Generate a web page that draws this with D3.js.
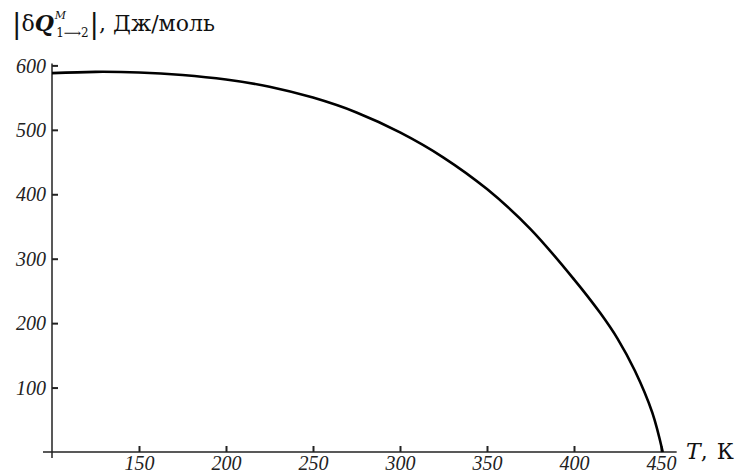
<!DOCTYPE html>
<html>
<head>
<meta charset="utf-8">
<script src="https://cdn.jsdelivr.net/npm/d3@7/dist/d3.min.js"></script>
<style>
  html, body { margin: 0; padding: 0; background: #fff; }
  svg { display: block; }
</style>
</head>
<body>
<svg id="chart" width="745" height="475"></svg>
<script>
// Data
const temperatures = [100, 125, 150, 175, 200, 225, 250, 275, 300, 325, 350, 375, 400, 415, 425, 435, 445, 451];
const heatValues   = [588, 590, 589, 585, 578, 567, 550, 527, 496, 457, 408, 346, 268, 216, 176, 126, 61, 0];
const xTickValues = [150, 200, 250, 300, 350, 400, 450];
const yTickValues = [100, 200, 300, 400, 500, 600];

const svg = d3.select("#chart");
const x = d3.scaleLinear().domain([100, 450]).range([52, 661]);
const y = d3.scaleLinear().domain([0, 600]).range([452, 65.4]);

const axisColor = "#222";
const fontTicks = "'Liberation Serif', serif";

// Axis lines (with small overhang like the reference)
svg.append("line")
  .attr("x1", x(100) - 9).attr("x2", x(459))
  .attr("y1", y(0)).attr("y2", y(0))
  .attr("stroke", axisColor).attr("stroke-width", 1.5);
svg.append("line")
  .attr("x1", x(100)).attr("x2", x(100))
  .attr("y1", y(0) + 6).attr("y2", y(603))
  .attr("stroke", axisColor).attr("stroke-width", 1.5);

// X axis ticks (inward) and labels
const xAxis = d3.axisBottom(x).tickValues(xTickValues).tickSize(0).tickPadding(0).tickFormat(d3.format("d"));
const gx = svg.append("g").attr("transform", `translate(0,${y(0)})`).call(xAxis);
gx.select(".domain").remove();
gx.selectAll(".tick").append("line")
  .attr("y1", 0).attr("y2", -6)
  .attr("stroke", axisColor).attr("stroke-width", 2);
gx.selectAll(".tick text")
  .attr("y", 18)
  .attr("dy", 0)
  .style("font-family", fontTicks)
  .style("font-style", "italic")
  .style("font-size", "20px")
  .attr("fill", "#222");

// Y axis ticks (inward) and labels
const yAxis = d3.axisLeft(y).tickValues(yTickValues).tickSize(0).tickPadding(0).tickFormat(d3.format("d"));
const gy = svg.append("g").attr("transform", `translate(${x(100)},0)`).call(yAxis);
gy.select(".domain").remove();
gy.selectAll(".tick").append("line")
  .attr("x1", 0).attr("x2", 6)
  .attr("stroke", axisColor).attr("stroke-width", 2);
gy.selectAll(".tick text")
  .attr("x", -6)
  .attr("dy", "0.33em")
  .style("font-family", fontTicks)
  .style("font-style", "italic")
  .style("font-size", "20px")
  .attr("fill", "#222");

// Curve
const pts = temperatures.map((t, i) => [t, heatValues[i]]);
const line = d3.line()
  .x(d => x(d[0])).y(d => y(d[1]))
  .curve(d3.curveCatmullRom.alpha(0.5));
svg.append("path")
  .datum(pts)
  .attr("d", line)
  .attr("fill", "none")
  .attr("stroke", "#000")
  .attr("stroke-width", 2.6);

// Y axis title: |δQ^M_{1→2}|, Дж/моль
const titleFont = "'DejaVu Serif', 'Liberation Serif', serif";
const yt = svg.append("text")
  .attr("x", 12).attr("y", 31)
  .style("font-family", titleFont)
  .style("font-size", "22px")
  .attr("fill", "#111");
yt.append("tspan").style("font-size", "28px").attr("dy", 2).text("|");
yt.append("tspan").attr("dy", -2).text("δ");
yt.append("tspan").style("font-weight", "bold").style("font-style", "italic").text("Q");
yt.append("tspan").style("font-style", "italic").style("font-size", "11px").attr("dy", -12).attr("dx", 1).text("M");
yt.append("tspan").style("font-size", "12px").attr("dy", 18).attr("dx", -10).text("1⟶2");
yt.append("tspan").style("font-size", "28px").attr("dy", -4).attr("dx", 1).text("|");
yt.append("tspan").style("font-size", "22px").attr("dy", -2).text(", Дж/моль");

// X axis title: T, К
const xt = svg.append("text")
  .attr("x", 686).attr("y", 459)
  .style("font-family", titleFont)
  .style("font-size", "22px")
  .attr("fill", "#111");
xt.append("tspan").style("font-style", "italic").text("T");
xt.append("tspan").text(",");
xt.append("tspan").attr("dx", 9).text("К");
</script>
</body>
</html>
